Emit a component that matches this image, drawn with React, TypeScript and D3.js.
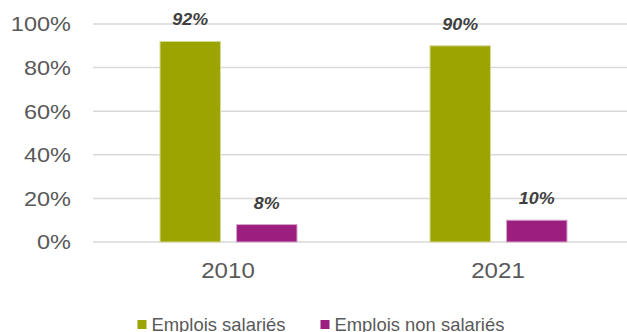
import React from "react";
import * as d3 from "d3";

const categories = ["2010", "2021"];
const seriesNames = ["Emplois salariés", "Emplois non salariés"];
const salaries = [92, 90];
const nonSalaries = [8, 10];
const yTicks = [0, 20, 40, 60, 80, 100];
const colors = ["#9BA400", "#9C1F80"];
const strokes = ["#D6DA99", "#D7A5CC"];

const W = 627;
const H = 332;
const SX = 1.12;

export default function App() {
  const x = d3.scaleBand().domain(categories).range([93, 633]).paddingInner(0).paddingOuter(0);
  const y = d3.scaleLinear().domain([0, 100]).range([242, 24]);
  const sub = d3.scaleBand().domain(["0", "1"]).range([67, 204]).paddingInner(0.21);
  const series = [salaries, nonSalaries];
  const sx = (cx: number, cy: number, k: number = SX) => `translate(${cx},${cy}) scale(${k},1) translate(${-cx},${-cy})`;

  return (
    <svg width={W} height={H} style={{ position: "absolute", left: 0, top: 0, fontFamily: "'Liberation Sans', Arial, sans-serif" }}>
      <rect width={W} height={H} fill="#fff" />
      {yTicks.map((t) => (
        <g key={t}>
          <line x1={93} x2={W} y1={y(t)} y2={y(t)} stroke="#D9D9D9" strokeWidth={1.5} />
          <text x={71} y={y(t) + 7.5} textAnchor="end" fontSize={21} fill="#595959" transform={sx(71, y(t))}>
            {t}%
          </text>
        </g>
      ))}
      {categories.map((c, i) => (
        <g key={c}>
          {series.map((s, j) => {
            const bx = (x(c) as number) + (sub(String(j)) as number);
            const bw = sub.bandwidth();
            return (
              <g key={j}>
                <rect x={bx} y={y(s[i])} width={bw} height={y(0) - y(s[i])} fill={colors[j]} stroke={strokes[j]} strokeWidth={1} />
                <text x={bx + bw / 2} y={y(s[i]) - 16} textAnchor="middle" fontSize={16} fontWeight="bold" fontStyle="italic" fill="#404040" transform={sx(bx + bw / 2, y(s[i]))}>
                  {s[i]}%
                </text>
              </g>
            );
          })}
          <text x={(x(c) as number) + x.bandwidth() / 2} y={278} textAnchor="middle" fontSize={21.5} fill="#595959" transform={sx((x(c) as number) + x.bandwidth() / 2, 278)}>
            {c}
          </text>
        </g>
      ))}
      {seriesNames.map((n, j) => {
        const lx = j === 0 ? 137.5 : 320.5;
        return (
          <g key={n}>
            <rect x={lx} y={320} width={9} height={9} fill={colors[j]} />
            <text x={lx + 14} y={331.5} fontSize={19} fill="#595959" transform={sx(lx + 14, 331.5, 0.97)}>
              {n}
            </text>
          </g>
        );
      })}
    </svg>
  );
}
